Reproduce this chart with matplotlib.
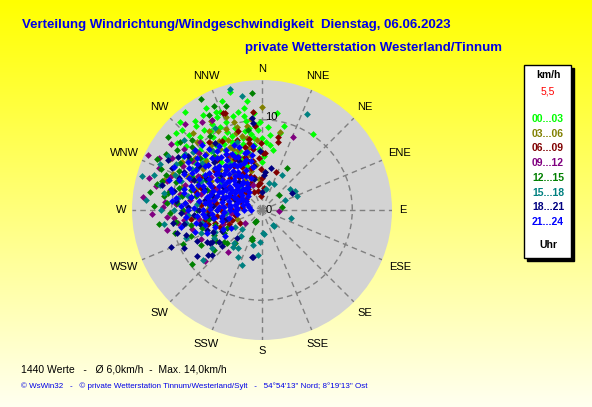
import numpy as np
import matplotlib
matplotlib.use("Agg")
import matplotlib.pyplot as plt
from matplotlib.patches import Rectangle

plt.rcParams['font.family'] = ['Liberation Sans', 'DejaVu Sans']

# Windrichtung (Grad) / Windgeschwindigkeit (km/h), nach Uhrzeit gruppiert
pts_00_03 = [(345, 13.5), (317, 13.3), (315, 12.5), (331, 12.9), (340, 12.8), (322, 11.8), (335, 12.0),
             (350, 11.5), (355, 10.8), (4, 9.2), (9, 10.9), (34, 10.1), (13, 8.8), (10, 6.8), (357, 8.9),
             (0, 5.3), (330, 11.0), (338, 10.5), (342, 9.5), (348, 9.0), (352, 8.5), (0, 8.0), (3, 7.5),
             (326, 9.8), (332, 9.0), (336, 8.2), (344, 7.6), (310, 11.0), (318, 10.0), (325, 8.8), (340, 7.0),
             (347, 6.5), (353, 7.2), (357, 6.8), (2, 6.0), (328, 7.8), (334, 6.9), (339, 6.2), (343, 5.8),
             (312, 8.5), (320, 7.0), (305, 9.2), (300, 7.5), (337, 11.8), (349, 10.6), (356, 9.4), (323, 12.3),
             (346, 11.2), (341, 5.2), (308, 12.0), (314, 9.5), (329, 6.5), (6, 8.3), (15, 9.6), (352, 12.2),
             (320, 10.6), (296, 8.6), (333, 10.3), (322, 13.8),
             (338, 8.8), (334, 11.4), (327, 10.4), (343, 10.9), (350, 10.0), (354, 8.0), (359, 9.8), (7, 7.2),
             (316, 11.6), (312, 12.8), (304, 10.6), (324, 11.0), (345, 8.2), (336, 9.4), (330, 8.4), (328, 12.4),
             (319, 8.6), (351, 9.2)]
pts_03_06 = [(0, 11.4), (13, 8.9), (356, 7.8), (335, 7.5), (333, 7.8), (338, 7.2), (287, 11.3), (342, 10.2),
             (328, 9.0), (325, 8.2), (345, 8.5), (350, 9.5), (320, 7.5), (315, 8.8), (330, 6.5), (340, 5.8),
             (348, 6.2), (352, 5.0), (318, 6.0), (310, 7.0), (305, 8.0), (300, 6.5), (322, 5.0), (344, 4.5),
             (336, 9.8), (326, 10.5), (339, 11.0), (312, 9.8), (295, 9.0), (290, 7.5), (283, 5.5), (330, 3.8),
             (355, 3.5), (5, 4.2), (250, 3.0), (346, 7.0), (334, 8.6), (327, 6.8), (318, 11.5), (341, 9.0),
             (353, 10.2), (301, 10.4), (275, 8.6),
             (343, 9.6), (348, 8.2), (331, 10.0), (323, 9.2), (316, 10.4), (308, 9.4), (303, 7.2), (297, 8.0),
             (314, 6.4), (337, 6.4), (350, 7.2), (324, 6.2), (311, 8.2), (320, 9.0), (286, 9.2), (292, 10.6),
             (299, 11.6), (330, 11.4), (277, 7.0), (271, 6.0)]
pts_06_09 = [(339, 11.5), (1, 6.3), (12, 8.3), (13, 7.7), (3, 6.3), (338, 11.6), (355, 10.9), (252, 3.5),
             (350, 5.5), (345, 4.8), (340, 4.0), (355, 3.0), (335, 5.2), (330, 3.2), (348, 2.2), (320, 2.5),
             (325, 4.5), (342, 6.2), (358, 4.5), (352, 6.8), (335, 6.5), (328, 5.8), (315, 5.0), (305, 4.5),
             (300, 3.0), (290, 2.5), (310, 6.8), (318, 7.5), (345, 7.2), (340, 8.2), (350, 8.0), (0, 3.5),
             (5, 2.5), (356, 1.5), (280, 3.8), (270, 4.5), (262, 5.0), (255, 6.2), (248, 5.0), (240, 2.8),
             (275, 6.8), (285, 5.5), (295, 6.0), (330, 8.8), (20, 4.5), (355, 9.3), (322, 9.5), (336, 2.2),
             (263, 7.9), (290, 7.2), (255, 4.3),
             (344, 5.6), (338, 3.2), (347, 3.8), (352, 2.8), (357, 5.8), (332, 6.4), (326, 2.8), (318, 4.0),
             (312, 3.0), (308, 5.6), (300, 4.6), (293, 3.6), (286, 4.6), (278, 2.2), (272, 3.4), (266, 4.2),
             (259, 3.0), (254, 5.4), (247, 4.0), (260, 6.4), (268, 6.0), (278, 5.2), (285, 7.6), (298, 7.8),
             (305, 2.2), (333, 4.6), (349, 7.6), (359, 7.4), (343, 9.2), (327, 7.2)]
pts_09_12 = [(296, 14.0), (23, 8.8), (276, 13.3), (266, 10.5), (261, 9.4), (219, 6.0), (233, 2.4), (292, 12.3),
             (282, 10.4), (331, 11.4), (93, 1.9), (263, 8.7), (300, 11.5), (288, 9.0), (278, 8.0), (270, 6.5),
             (285, 7.0), (305, 9.5), (310, 7.8), (295, 5.5), (275, 4.5), (265, 3.5), (320, 6.0), (326, 11.8),
             (318, 12.8), (298, 8.0), (283, 12.0), (272, 11.0), (290, 10.8), (255, 8.0), (245, 7.5), (313, 4.0),
             (330, 7.0), (340, 3.0), (250, 4.6), (303, 6.8), (280, 5.6), (286, 13.0), (268, 12.2), (308, 11.0),
             (228, 8.5),
             (293, 8.6), (299, 10.0), (287, 11.0), (281, 9.2), (274, 9.6), (268, 8.4), (262, 7.0), (258, 10.8),
             (306, 12.4), (312, 9.4), (318, 10.2), (297, 12.8), (289, 6.0), (275, 10.8), (265, 9.8)]
pts_12_15 = [(279, 12.6), (284, 12.0), (292, 12.1), (274, 10.6), (247, 9.5), (253, 7.0), (198, 3.5), (210, 1.5),
             (31, 5.4), (49, 2.5), (81, 2.2), (331, 14.0), (355, 13.0), (341, 12.2), (331, 12.0), (335, 12.7),
             (288, 10.0), (280, 9.0), (295, 8.5), (270, 8.8), (265, 7.5), (300, 10.5), (305, 11.5), (290, 6.5),
             (282, 7.5), (276, 6.0), (298, 7.0), (310, 9.0), (315, 11.0), (318, 8.0), (325, 10.0), (270, 5.0),
             (260, 6.0), (240, 7.8), (232, 9.8), (255, 10.0), (230, 5.5), (305, 6.0), (286, 11.5), (296, 13.0),
             (308, 13.2), (272, 12.0), (243, 4.3), (350, 9.0), (262, 11.5), (252, 5.5), (242, 6.0), (239, 4.9),
             (236, 6.1), (227, 5.3), (219, 4.7), (200, 3.3), (209, 1.4), (230, 6.9),
             (300, 12.3), (305, 9.8), (295, 10.2), (290, 11.3), (285, 9.5), (278, 11.0), (275, 9.4), (268, 10.2),
             (262, 9.6), (286, 8.2), (270, 7.2), (310, 11.8), (302, 8.6), (294, 7.6), (280, 10.6), (312, 10.4),
             (258, 8.0), (250, 8.4)]
pts_15_18 = [(15, 3.1), (25, 3.2), (53, 3.9), (60, 4.2), (68, 4.2), (66, 2.8), (105, 3.3), (143, 2.2),
             (175, 2.7), (11, 2.4), (25, 11.7), (286, 13.8), (238, 3.5), (226, 3.1), (219, 3.7), (220, 4.8),
             (212, 5.0), (207, 5.8), (185, 5.0), (178, 2.6), (184, 3.6), (144, 2.1), (218, 5.2), (290, 9.5),
             (300, 12.0), (280, 11.0), (270, 9.8), (310, 10.0), (295, 7.5), (285, 6.0), (275, 7.2), (305, 5.5),
             (320, 8.5), (330, 10.5), (350, 12.8), (260, 8.5), (250, 9.0), (265, 4.0), (315, 3.5), (340, 8.0),
             (298, 10.8), (288, 12.6), (275, 12.9), (308, 8.4), (325, 6.2), (262, 11.0), (233, 7.0), (245, 5.8),
             (30, 4.5), (195, 4.0), (200, 6.5), (345, 13.9),
             (292, 10.4), (284, 11.6), (300, 9.0), (306, 10.6), (278, 9.4), (270, 11.2), (266, 8.2), (281, 8.4),
             (294, 12.4), (312, 11.6), (265, 6.2), (258, 6.8), (249, 7.2), (240, 6.2), (230, 8.6)]
pts_18_21 = [(248, 10.9), (228, 7.5), (238, 6.8), (228, 6.0), (192, 5.3), (260, 8.8), (259, 4.5), (261, 5.5),
             (233, 5.9), (237, 6.6), (191, 5.3), (5, 4.2), (3, 3.9), (60, 3.8), (298, 11.8), (302, 11.0),
             (295, 11.0), (296, 9.6), (354, 10.3), (354, 9.7), (270, 7.0), (275, 5.5), (280, 8.0), (285, 4.5),
             (290, 6.8), (265, 6.0), (255, 4.0), (250, 6.5), (245, 8.0), (242, 5.0), (300, 5.0), (310, 6.0),
             (315, 7.5), (305, 8.5), (320, 4.0), (335, 6.0), (345, 3.5), (350, 5.0), (0, 2.0), (282, 10.0),
             (268, 9.0), (235, 8.8), (222, 4.2), (290, 3.2), (325, 9.0), (358, 6.5), (12, 4.8),
             (280, 6.4), (287, 5.8), (294, 8.2), (300, 7.2), (272, 8.2), (266, 7.6), (262, 10.0), (257, 7.0),
             (252, 8.8), (246, 6.0), (240, 7.0), (230, 7.8), (244, 9.6), (255, 9.8), (276, 9.6), (284, 11.4),
             (291, 9.8), (306, 10.2)]
pts_21_24 = [(255, 6.5), (259, 7.5), (244, 4.8), (265, 5.6), (270, 8.2), (247, 6.6), (250, 5.5), (240, 4.0),
             (235, 5.0), (252, 7.8), (270, 2.0), (270, 3.5), (270, 5.0), (270, 6.5), (272, 7.5), (275, 2.8),
             (275, 4.2), (276, 5.8), (278, 7.0), (280, 8.0), (280, 3.0), (281, 4.5), (283, 6.2), (284, 7.4),
             (285, 2.2), (286, 3.8), (287, 5.2), (288, 6.8), (289, 8.3), (290, 4.2), (291, 5.8), (292, 7.0),
             (293, 3.0), (294, 4.8), (295, 6.2), (296, 7.8), (297, 2.5), (298, 4.0), (299, 5.5), (300, 6.8),
             (301, 8.5), (302, 3.5), (303, 5.0), (304, 6.0), (305, 7.2), (306, 4.4), (307, 5.6), (308, 8.0),
             (309, 3.2), (310, 6.4), (311, 4.9), (312, 7.0), (313, 5.8), (314, 8.8), (315, 3.8), (316, 6.8),
             (317, 4.6), (318, 5.9), (319, 7.6), (320, 3.0), (321, 6.3), (322, 4.8), (323, 8.2), (324, 5.4),
             (325, 6.8), (326, 3.8), (327, 7.4), (328, 5.0), (329, 6.0), (330, 4.4), (332, 7.0), (334, 5.6),
             (336, 6.4), (338, 4.8), (340, 7.4), (342, 5.8), (345, 6.6), (348, 4.9), (352, 7.2), (300, 9.3),
             (285, 9.0), (275, 8.6), (265, 7.2), (262, 4.5), (268, 3.0), (312, 10.0), (305, 10.5), (295, 9.5),
             (290, 9.8), (278, 9.6), (315, 2.2), (300, 2.0), (290, 1.8), (325, 2.5), (283, 10.4), (258, 9.2),
             (265, 8.4), (282, 8.8),
             (268, 1.2), (272, 2.8), (274, 4.8), (277, 6.4), (279, 3.6), (282, 5.4), (284, 1.5), (286, 6.0),
             (288, 4.6), (289, 2.8), (291, 7.6), (293, 5.2), (294, 8.8), (296, 3.4), (297, 6.6), (299, 4.6),
             (301, 2.6), (302, 7.4), (304, 4.0), (305, 8.8), (306, 2.8), (308, 6.4), (309, 5.0), (310, 7.8),
             (311, 3.6), (313, 6.6), (314, 4.2), (316, 8.0), (317, 5.4), (318, 3.2), (319, 9.0), (320, 6.4),
             (322, 7.4), (323, 3.6), (324, 6.0), (326, 8.6), (327, 4.6), (328, 3.0), (329, 7.8), (331, 5.6),
             (331, 3.4), (333, 6.6), (335, 4.2), (337, 7.8), (339, 5.6), (341, 3.8), (343, 6.6), (347, 5.6),
             (350, 6.2), (280, 6.0), (276, 3.6), (271, 5.8), (267, 4.2), (263, 6.4), (260, 5.4), (257, 3.8),
             (254, 4.6), (262, 2.8), (266, 6.6), (273, 9.0), (287, 8.0), (298, 8.8), (303, 9.8), (309, 9.2),
             (317, 9.8), (296, 10.8), (288, 10.8), (281, 10.2), (276, 10.0), (292, 4.0)]

groups = [pts_00_03, pts_03_06, pts_06_09, pts_09_12, pts_12_15, pts_15_18, pts_18_21, pts_21_24]
hour_labels = ['00...03', '03...06', '06...09', '09...12', '12...15', '15...18', '18...21', '21...24']
hour_colors = ['#00FF00', '#808000', '#800000', '#800080', '#008000', '#008080', '#000080', '#0000FF']
dir_labels = ['N', 'NNE', 'NE', 'ENE', 'E', 'ESE', 'SE', 'SSE',
              'S', 'SSW', 'SW', 'WSW', 'W', 'WNW', 'NW', 'NNW']
current_speed = '5,5'

W, H = 592, 407
fig = plt.figure(figsize=(W / 100, H / 100), dpi=100)

# hintergrund: gelber verlauf
bg = fig.add_axes([0, 0, 1, 1])
grad = np.linspace(0, 1, 256)[:, None]
img = np.ones((256, 2, 3))
img[:, :, 2] = (grad * 0.94)
bg.imshow(img, aspect='auto', extent=[0, 1, 0, 1], origin='upper')
bg.axis('off')

# polardiagramm, mitte (262,210), radius 130 px
cx, cy, rad = 262, 210, 130
rmax = 14.4
ax = fig.add_axes([(cx - rad) / W, (H - cy - rad) / H, 2 * rad / W, 2 * rad / H], projection='polar')
ax.set_facecolor('#D3D3D3')
ax.set_theta_zero_location('N')
ax.set_theta_direction(-1)
ax.set_ylim(0, rmax)
ax.set_xticks(np.radians(np.arange(0, 360, 22.5)))
ax.set_xticklabels([])
ax.set_yticks([10])
ax.set_yticklabels([])
ax.grid(True, color='#808080', linestyle=(0, (4, 3)), linewidth=1)
ax.spines['polar'].set_visible(False)
ax.set_axisbelow(True)

for pts, col in zip(groups, hour_colors):
    d = np.radians([p[0] for p in pts])
    s = [p[1] for p in pts]
    ax.scatter(d, s, marker='D', s=12, c=col, linewidths=0, zorder=3)

px = rmax / rad
for i, lab in enumerate(dir_labels):
    th = np.radians(i * 22.5)
    w = 7.5 * len(lab)
    r = 137 + abs(np.sin(th)) * w / 2 + abs(np.cos(th)) * 4.5
    ax.text(th, r * px, lab, ha='center', va='center', fontsize=8, clip_on=False)

ax.text(np.radians(2), 10.3, '10', ha='left', va='center', fontsize=8, zorder=5)
ax.text(np.radians(90), 0.35, '0', ha='left', va='center', fontsize=8, zorder=5)

# titel
fig.text(22 / W, 1 - 25 / H, 'Verteilung Windrichtung/Windgeschwindigkeit  Dienstag, 06.06.2023',
         ha='left', va='center', fontsize=9.5, fontweight='bold', color='#0000E6')
fig.text(502 / W, 1 - 48.5 / H, 'private Wetterstation Westerland/Tinnum',
         ha='right', va='center', fontsize=9.5, fontweight='bold', color='#0000E6')

# legende
lx, ly, lw, lh = 524, 65, 47, 193
fig.patches.append(Rectangle(((lx + 3) / W, 1 - (ly + lh + 3) / H), lw / W, lh / H,
                             transform=fig.transFigure, facecolor='black', edgecolor='black', zorder=1))
fig.patches.append(Rectangle((lx / W, 1 - (ly + lh) / H), lw / W, lh / H,
                             transform=fig.transFigure, facecolor='white', edgecolor='black',
                             linewidth=1, zorder=2))
fig.text(548 / W, 1 - 75 / H, 'km/h', ha='center', va='center', fontsize=7.5, fontweight='bold')
fig.text(548 / W, 1 - 92 / H, current_speed, ha='center', va='center', fontsize=7.5, color='red')
for i, (lab, col) in enumerate(zip(hour_labels, hour_colors)):
    fig.text(548 / W, 1 - (119 + i * 14.7) / H, lab, ha='center', va='center',
             fontsize=7.5, fontweight='bold', color=col)
fig.text(548 / W, 1 - 245 / H, 'Uhr', ha='center', va='center', fontsize=7.5, fontweight='bold')

# fusszeile
fig.text(21 / W, 1 - 369 / H, '1440 Werte   -   \u00d8 6,0km/h  -  Max. 14,0km/h',
         ha='left', va='center', fontsize=7.5)
fig.text(21 / W, 1 - 386 / H,
         '\u00a9 WsWin32   -   \u00a9 private Wetterstation Tinnum/Westerland/Sylt   -   '
         '54\u00b054\'13" Nord; 8\u00b019\'13" Ost',
         ha='left', va='center', fontsize=5.8, color='#0000E6')

fig.savefig('out.png', dpi=100)
